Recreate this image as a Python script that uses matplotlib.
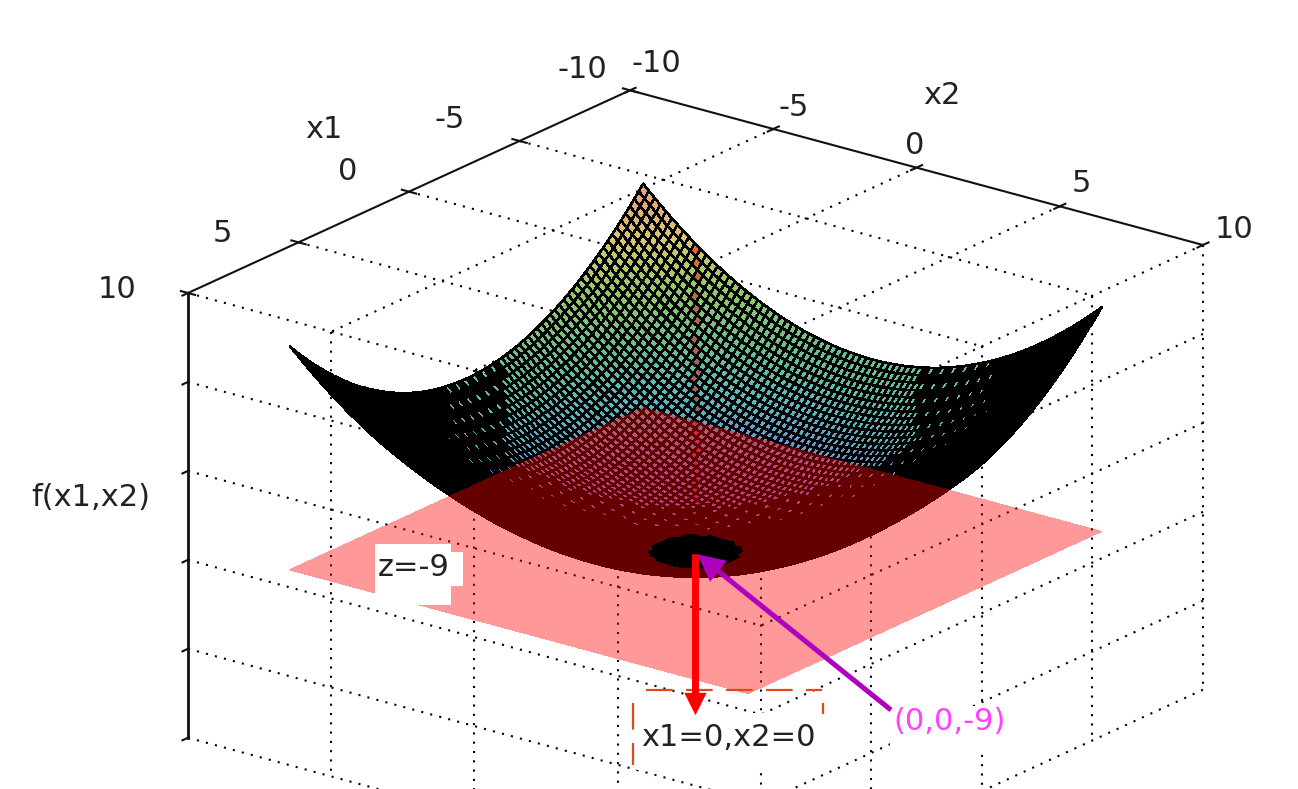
import numpy as np
import matplotlib
matplotlib.use("Agg")
import matplotlib.pyplot as plt
from matplotlib.colors import LinearSegmentedColormap
from matplotlib.lines import Line2D
from matplotlib.patches import Rectangle, FancyArrowPatch
from mpl_toolkits.mplot3d import proj3d

W, H = 1298, 789

# axis ticks
x_ticks = [-10, -5, 0, 5, 10]
z_ticks = [10, 4, -2, -8, -14, -20]

# rise of the bowl above its bottom, read along one axis, x = 0 to 8 in steps of 0.2
half_profile = [0.00, 0.00, 0.02, 0.04, 0.08, 0.12, 0.17, 0.24, 0.31, 0.39, 0.48,
                0.58, 0.69, 0.81, 0.94, 1.08, 1.23, 1.39, 1.56, 1.73, 1.92,
                2.12, 2.32, 2.54, 2.76, 3.00, 3.24, 3.50, 3.76, 4.04, 4.32,
                4.61, 4.92, 5.23, 5.55, 5.88, 6.22, 6.57, 6.93, 7.30, 7.68]
half_grid = [0.0, 0.2, 0.4, 0.6, 0.8, 1.0, 1.2, 1.4, 1.6, 1.8, 2.0,
             2.2, 2.4, 2.6, 2.8, 3.0, 3.2, 3.4, 3.6, 3.8, 4.0,
             4.2, 4.4, 4.6, 4.8, 5.0, 5.2, 5.4, 5.6, 5.8, 6.0,
             6.2, 6.4, 6.6, 6.8, 7.0, 7.2, 7.4, 7.6, 7.8, 8.0]
bowl_bottom = -9.25
plane_z = -9
plane_x = [-8, 8]
pit_radius = 1.31

# labels: text, centre in picture pixels
x1_labels = [("-10", 582, 69), ("-5", 450, 120), ("0", 348, 172), ("5", 222, 233)]
x2_labels = [("-10", 656, 64), ("-5", 794, 107), ("0", 915, 145), ("5", 1081, 184), ("10", 1234, 230)]
other_labels = [("x1", 324, 130), ("x2", 942, 95), ("10", 117, 290), ("f(x1,x2)", 91, 497)]

palette = ["#8a5fd0", "#7088d8", "#58b8c0", "#68c090", "#90c868", "#d8c868", "#e8a080"]

fig = plt.figure(figsize=(W / 100, H / 100), dpi=100)
ax = fig.add_axes([0.2, 0.2, 0.6 * H / W, 0.6], projection="3d", proj_type="ortho")
ax.set_axis_off()
ax.computed_zorder = False
ax.set_xlim(-10, 10)
ax.set_ylim(-10, 10)
ax.set_zlim(-20, 10)
ax.set_box_aspect((726, 722, 475))
ax.view_init(elev=20.6, azim=37.5)


def to_px(x, y, z):
    px, py, _ = proj3d.proj_transform(x, y, z, ax.get_proj())
    return ax.transData.transform((px, py))


# fit the axes box so the cube lands where it is in the picture
fig.canvas.draw()
a = to_px(10, -10, 10)
b = to_px(-10, 10, 10)
k = (1203 - 188) / (b[0] - a[0])
side = 0.6 * H * k
ax.set_position([0.2, 0.2, side / W, side / H])
fig.canvas.draw()
a = to_px(10, -10, 10)
pos = ax.get_position()
ax.set_position([pos.x0 + (188 - a[0]) / W, pos.y0 + (H - 293 - a[1]) / H, pos.width, pos.height])
fig.canvas.draw()


def line3(xs, ys, zs, **kw):
    ax.plot(xs, ys, zs, **kw)


dots = dict(color="black", lw=1.5, ls=(0, (1, 3.46)), zorder=1)
axis = dict(color="#111111", lw=1.5, zorder=1)
for t in x_ticks[1:-1]:
    line3([t, t], [-10, 10], [10, 10], **dots)
    line3([-10, 10], [t, t], [10, 10], **dots)
    line3([10, 10], [t, t], [10, -20], **dots)
    line3([t, t], [10, 10], [10, -20], **dots)
line3([-10, -10], [10, 10], [10, -20], **dots)
line3([10, 10], [10, 10], [10, -20], **dots)
for zt in z_ticks:
    line3([10, 10], [-10, 10], [zt, zt], **dots)
    line3([-10, 10], [10, 10], [zt, zt], **dots)

# box edges and tick marks
line3([10, -10], [-10, -10], [10, 10], **axis)
line3([-10, -10], [-10, 10], [10, 10], **axis)
line3([10, 10], [-10, -10], [10, -20], color="#111111", lw=2.0, zorder=1)
for t in x_ticks:
    line3([t, t], [-10.25, -9.75], [10, 10], **axis)
    line3([-10.25, -9.75], [t, t], [10, 10], **axis)
for zt in z_ticks:
    line3([10.25, 10], [-10.0, -10], [zt, zt], **axis)

# surface
grid = np.array([-v for v in half_grid[:0:-1]] + half_grid)
profile = np.array(half_profile[:0:-1] + half_profile)
X1, X2 = np.meshgrid(grid, grid, indexing="ij")
Z = bowl_bottom + profile[:, None] + profile[None, :]

cmap = LinearSegmentedColormap.from_list("bowl", palette)
colours = cmap((Z - bowl_bottom) / (Z.max() - bowl_bottom))
middle = to_px(0, 0, 0)[0]
sx, sy, _ = proj3d.proj_transform(X1.ravel(), X2.ravel(), Z.ravel(), ax.get_proj())
sx, sy = ax.transData.transform(np.column_stack([sx, sy])).T
sx = sx.reshape(Z.shape) - middle
sy = sy.reshape(Z.shape)
# the vertical line through the middle only tints the coloured cells
on_line = (np.abs(sx) < 2.5) & (sy > to_px(0, 0, bowl_bottom)[1])
colours[on_line, :3] = colours[on_line, :3] * 0.55 + np.array([0.4, 0.0, 0.0])
# coloured cells only show on the far side, thinning out towards the edge of that part
depth = 0.742 * X1 + 0.57 * X2
thin = (depth > -2.6) | (sx < -190) | (sx > 220)
keep = np.add.outer(np.arange(len(grid)) % 2, np.arange(len(grid)) % 2) == 0
colours[(depth > -1.6) | (sx < -250) | (sx > 295) | (thin & ~keep)] = (0, 0, 0, 1)

# whole bowl in black, then the far side with its mesh on top of it
ax.plot_surface(X1, X2, Z, color="black", edgecolor="black", linewidth=0.7,
                rstride=1, cstride=1, shade=False, antialiased=False, zorder=2)
far_side = np.where(depth < -1.0, Z, np.nan)
ax.plot_surface(X1, X2, far_side, facecolors=colours, edgecolor="black", linewidth=1.1,
                rstride=1, cstride=1, shade=False, antialiased=False, zorder=3)

# translucent plane z=-9
PX, PY = np.meshgrid(plane_x, plane_x, indexing="ij")
ax.plot_surface(PX, PY, np.full(PX.shape, plane_z), color=(1, 0, 0, 0.4), linewidth=0,
                shade=False, antialiased=False, zorder=4)

# pit where the surface reaches the plane
pit = np.where(X1 ** 2 + X2 ** 2 < pit_radius ** 2, Z, np.nan)
ax.plot_surface(X1, X2, pit, color="black", linewidth=0.7, edgecolor="black",
                rstride=1, cstride=1, shade=False, antialiased=False, zorder=5)


def fx(p):
    return p / W


def fy(p):
    return 1 - p / H


# picture level items
for x0, y0, x1_, y1_ in [(375, 544, 451, 605), (451, 552, 463, 586), (637, 713, 822, 770), (890, 706, 1006, 752)]:
    fig.add_artist(Rectangle((fx(x0), fy(y1_)), (x1_ - x0) / W, (y1_ - y0) / H, color="white",
                             lw=0, transform=fig.transFigure, zorder=2))

dash = dict(color="#e04a1a", lw=1.6, ls=(0, (12, 6)), transform=fig.transFigure, zorder=3)
fig.add_artist(Line2D([fx(646), fx(822)], [fy(690), fy(690)], **dash))
fig.add_artist(Line2D([fx(633), fx(633)], [fy(703), fy(765)], **dash))
fig.add_artist(Line2D([fx(823), fx(823)], [fy(703), fy(714)], **dash))

top = to_px(0, 0, bowl_bottom)
end = to_px(0, 0, -20.1)
fig.add_artist(FancyArrowPatch(top, end, arrowstyle="-|>", mutation_scale=20, color="red", lw=5.0,
                               shrinkA=0, shrinkB=0, joinstyle="miter", capstyle="butt",
                               transform=None, zorder=4))
fig.add_artist(FancyArrowPatch((891, H - 710), (top[0] + 2, top[1]), arrowstyle="-|>", mutation_scale=34,
                               color="#b000c0", lw=3.6, shrinkA=0, shrinkB=0, joinstyle="miter", capstyle="butt",
                               transform=None, zorder=5))

text = dict(fontsize=22, ha="center", va="center", color="#222222", zorder=6)
for s, px, py in x1_labels + x2_labels + other_labels:
    fig.text(fx(px), fy(py), s, **text)
fig.text(fx(414), fy(567), "z=-9", **text)
fig.text(fx(728), fy(737), "x1=0,x2=0", **text)
fig.text(fx(950), fy(722), "(0,0,-9)", **{**text, "color": "#ff40ff"})

fig.savefig("out.png", dpi=100)
